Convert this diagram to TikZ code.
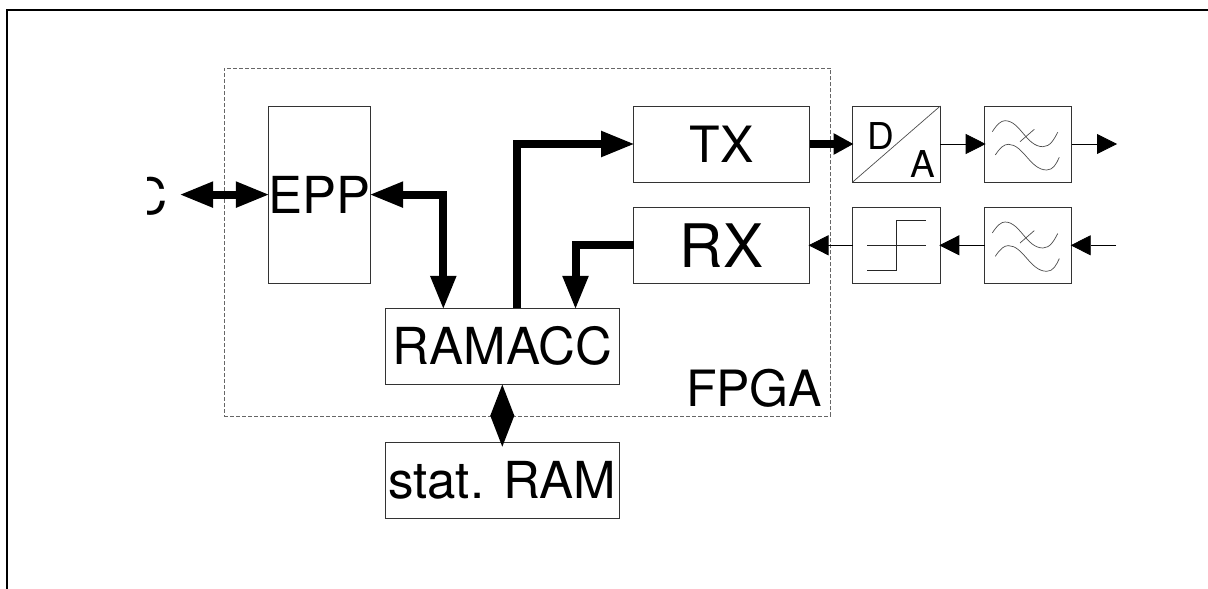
\documentclass[tikz,border=0pt]{standalone}
\usepackage{fontspec}
\setmainfont{TeX Gyre Heros}
\usetikzlibrary{arrows.meta}

\tikzstyle{block}=[draw=black!80, line width=0.9pt, inner sep=0pt, outer sep=0pt, font=\fontsize{50}{60}\selectfont]
\tikzstyle{wide}=[font=\fontsize{51}{60}\selectfont]
\tikzstyle{label}=[inner sep=0pt, outer sep=0pt, font=\fontsize{50}{60}\selectfont]
\tikzstyle{conv}=[inner sep=0pt, outer sep=0pt, font=\fontsize{37}{44}\selectfont]
\tikzstyle{bus}=[line width=8pt, shorten >=-1.5pt, -{Triangle[length=34pt,width=24pt]}]
\tikzstyle{busboth}=[line width=8pt, shorten >=-1.5pt, shorten <=-1.5pt, {Triangle[length=34pt,width=24pt]}-{Triangle[length=34pt,width=24pt]}]
\tikzstyle{busshort}=[line width=8pt, shorten >=-1pt, -{Triangle[length=20pt,width=20pt]}]
\tikzstyle{wire}=[line width=0.8pt, shorten >=-1pt, -{Triangle[length=20pt,width=20pt,color=black,fill=black]}]
\tikzstyle{symbol}=[line width=0.7pt, black!70]

\newcommand{\lowpass}[1]{
            \begin{scope}[shift={(#1)}]
                \draw[symbol] (-35.9,-12.3) .. controls (-31,-20) and (-27,-23.3) .. (-23.2,-23.3)
                    .. controls (-8,-23.3) and (-2,2.7) .. (14.8,2.7)
                    .. controls (22,2.7) and (26,-5) .. (29.5,-11.7);
                \draw[symbol] (-32.9,11) .. controls (-28,3.5) and (-24,0.3) .. (-19.9,0.3)
                    .. controls (-5,0.3) and (2,26) .. (18.5,26)
                    .. controls (25,26) and (28,20) .. (31.1,13.3);
                \draw[symbol] (-8.2,-2.3) -- (6.1,-14.7);
            \end{scope}
}

\begin{document}
\begin{tikzpicture}[x=1pt,y=-1pt]
            \useasboundingbox (0,0) rectangle (1208,589);
            \draw[line width=2pt] (6.7,589) -- (6.7,10.2) -- (1208,10.2);
            \node[draw=black!60, line width=0.8pt, dash pattern=on 4pt off 2pt, minimum width=606.3pt, minimum height=348pt] at (527.2,242) (FPGA) {};

            \node[block, wide, minimum width=102.4pt, minimum height=177.3pt] at (319.5,194.6) (EPP) {EPP};
            \node[block, minimum width=176pt, minimum height=76pt] at (721.5,144) (TX) {TX};
            \node[block, minimum width=176pt, minimum height=76pt, font=\fontsize{60}{72}\selectfont] at (721.5,245.3) (RX) {RX};
            \node[block, wide, minimum width=234pt, minimum height=76pt] at (502.3,346.3) (RAMACC) {RAMACC};
            \node[block, wide, minimum width=234pt, minimum height=76pt] at (502.3,480.3) (SRAM) {stat. RAM};
            \node[block, minimum width=87.6pt, minimum height=76pt] at (896.5,144) (DA) {};
            \node[block, minimum width=87.6pt, minimum height=76pt] at (896.5,245.3) (COMP) {};
            \node[block, minimum width=87pt, minimum height=76pt] at (1028.2,144) (LPT) {};
            \node[block, minimum width=87pt, minimum height=76pt] at (1028.2,245.3) (LPR) {};
            \node[label] at (754,388) (FPGAL) {FPGA};
            \node[conv] at (880.5,136.5) (D) {D};
            \node[conv] at (922.8,164.5) (A) {A};

            \begin{scope}
                \clip (147,170) rectangle (176,225);
                \node[label, anchor=east] at (168,196) (PC) {C};
            \end{scope}

            \coordinate (pcR) at (180.7,194.6);
            \coordinate (ramE) at (443.3,308.3);
            \coordinate (ramT) at (516.7,308.3);
            \coordinate (ramR) at (575.5,308.3);
            \coordinate (sramT) at (502.3,447);
            \coordinate (txO) at (1116,144);
            \coordinate (rxI) at (1116,245.3);

            \draw[busboth] (pcR) -- (EPP.west);
            \draw[busboth] (EPP.east) -| (ramE);
            \draw[bus] (ramT) |- (TX.west);
            \draw[bus] (RX.west) -| (ramR);
            \draw[{Triangle[length=31.5pt,width=23pt]}-{Triangle[length=31.5pt,width=23pt]}, line width=4pt] (RAMACC.south) -- (sramT);
            \draw[busshort] (TX.east) -- (DA.west);
            \draw[wire] (DA.east) -- (LPT.west);
            \draw[wire] (LPT.east) -- (txO);
            \draw[wire] (rxI) -- (LPR.east);
            \draw[wire] (LPR.west) -- (COMP.east);
            \draw[wire] (COMP.west) -- (RX.east);

            \draw[symbol] (DA.south west) -- (DA.north east);
            \lowpass{1028.2,144}
            \lowpass{1028.2,245.3}
            \begin{scope}[shift={(COMP.center)}]
                \draw[line width=0.8pt, black!85] (-29.3,25) -- (0,25) -- (0,-25) -- (29.3,-25);
                \draw[line width=0.8pt, black!85] (-29.3,0) -- (29.3,0);
            \end{scope}
\end{tikzpicture}
\end{document}
